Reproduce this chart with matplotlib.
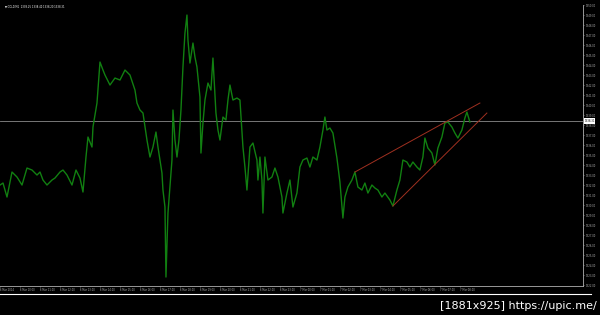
import matplotlib
matplotlib.use("Agg")
import matplotlib.pyplot as plt
from matplotlib.lines import Line2D

# ---- dados (minutos desde o inicio, preco) ----
tempo = [0, 9, 21, 36, 51, 66, 81, 96, 111, 120, 129, 141, 156, 165, 180, 189, 201, 216,
         228, 240, 249, 258, 264, 276, 279, 291, 300, 309, 315, 330, 345, 360, 375, 390,
         405, 411, 420, 429, 441, 450, 459, 468, 474, 486, 489, 495, 498, 504, 510, 516,
         519, 525, 531, 537, 543, 549, 555, 561, 564, 570, 579, 585, 591, 600, 603, 609,
         615, 624, 633, 639, 648, 654, 660, 669, 678, 684, 690, 699, 711, 720, 729, 735,
         741, 750, 759, 771, 774, 780, 786, 789, 795, 804, 816, 825, 834, 846, 849, 861,
         870, 879, 891, 900, 909, 921, 930, 939, 951, 960, 969, 975, 981, 990, 999, 1011,
         1020, 1029, 1035, 1044, 1056, 1065, 1074, 1086, 1095, 1104, 1116, 1125, 1134,
         1146, 1155, 1170, 1179, 1191, 1200, 1209, 1221, 1230, 1239, 1251, 1260, 1269,
         1275, 1284, 1296, 1305, 1314, 1326, 1335, 1344, 1356, 1365, 1374, 1386, 1395,
         1401, 1410]
preco = [1332.0, 1332.2, 1330.8, 1333.3, 1332.8, 1332.0, 1333.7, 1333.5, 1333.0, 1333.3,
         1332.5, 1332.0, 1332.5, 1332.7, 1333.3, 1333.5, 1333.0, 1332.0, 1333.5, 1332.7,
         1331.3, 1334.8, 1336.8, 1335.8, 1337.8, 1340.2, 1344.3, 1343.5, 1343.0, 1342.0,
         1342.7, 1342.5, 1343.5, 1343.0, 1341.5, 1340.2, 1339.5, 1339.2, 1336.5, 1334.8,
         1335.8, 1337.3, 1335.8, 1333.2, 1331.5, 1329.8, 1322.8, 1329.2, 1331.8, 1334.5,
         1339.5, 1336.5, 1334.8, 1336.5, 1339.5, 1343.8, 1347.2, 1349.0, 1346.5, 1344.2,
         1346.2, 1344.8, 1343.8, 1340.8, 1335.2, 1338.2, 1340.5, 1342.2, 1341.5, 1344.7,
         1339.2, 1337.5, 1336.5, 1338.8, 1338.5, 1340.5, 1342.0, 1340.5, 1340.7, 1340.5,
         1335.8, 1333.8, 1331.5, 1335.8, 1336.2, 1334.5, 1332.5, 1334.8, 1332.5, 1329.2,
         1334.8, 1332.5, 1332.8, 1333.7, 1332.8, 1330.8, 1329.2, 1331.2, 1332.5, 1329.8,
         1331.2, 1333.8, 1334.5, 1334.7, 1333.8, 1334.8, 1334.5, 1335.8, 1337.5, 1338.8,
         1337.5, 1337.7, 1337.2, 1334.7, 1332.3, 1328.7, 1330.8, 1331.8, 1332.5, 1333.3,
         1331.8, 1331.5, 1332.2, 1331.2, 1332.0, 1331.7, 1331.5, 1330.8, 1331.2, 1330.5,
         1329.9, 1331.5, 1332.5, 1334.5, 1334.3, 1333.8, 1334.3, 1333.8, 1333.5, 1334.8,
         1336.7, 1335.7, 1335.2, 1334.0, 1335.7, 1336.8, 1338.2, 1338.3, 1337.8, 1337.2,
         1336.7, 1337.5, 1338.7, 1339.3, 1338.3]

# linhas de tendencia (cunha ascendente)
tend_sup_t = [1065, 1440]
tend_sup_p = [1333.3, 1340.2]
tend_inf_t = [1179, 1461]
tend_inf_p = [1329.9, 1339.2]

nivel_horizontal = 1338.4
preco_atual = "1338.31"
titulo = "\u25bc GOLD,M1  1338.25 1338.40 1338.20 1338.31"

ticks_preco = list(range(1322, 1351))
etiquetas_tempo = ["6 Mar 2014", "6 Mar 10:00", "6 Mar 11:00", "6 Mar 12:00", "6 Mar 13:00",
                   "6 Mar 14:00", "6 Mar 15:00", "6 Mar 16:00", "6 Mar 17:00", "6 Mar 18:00",
                   "6 Mar 19:00", "6 Mar 20:00", "6 Mar 21:00", "6 Mar 22:00", "6 Mar 23:00",
                   "7 Mar 00:00", "7 Mar 01:00", "7 Mar 02:00", "7 Mar 03:00", "7 Mar 04:00",
                   "7 Mar 05:00", "7 Mar 06:00", "7 Mar 07:00", "7 Mar 08:00"]
ticks_tempo = [60 * i for i in range(len(etiquetas_tempo))]

cinza = "#b0b0b0"
tam = 1.8

fig = plt.figure(figsize=(6, 3.15), dpi=100, facecolor="black")
ax = fig.add_axes([0.0, 0.092, 0.972, 0.892], facecolor="black")

ax.axhline(nivel_horizontal, color="#8a8a8a", lw=0.6)
ax.plot(tempo, preco, color="#117f11", lw=1.0)
ax.plot(tend_sup_t, tend_sup_p, color="#a03020", lw=0.7)
ax.plot(tend_inf_t, tend_inf_p, color="#a03020", lw=0.7)

ax.set_xlim(0, 1750)
ax.set_ylim(1321.9, 1350.0)

ax.yaxis.tick_right()
ax.set_yticks(ticks_preco)
ax.set_yticklabels([f"{v:.2f}" for v in ticks_preco])
ax.set_xticks(ticks_tempo)
ax.set_xticklabels(etiquetas_tempo, ha="left")
ax.tick_params(axis="both", colors=cinza, labelsize=tam, length=1.0, width=0.4, pad=0.5)

for lado in ["top", "left"]:
    ax.spines[lado].set_visible(False)
for lado in ["right", "bottom"]:
    ax.spines[lado].set_color(cinza)
    ax.spines[lado].set_linewidth(0.6)

# etiqueta do preco atual
ax.text(1.002, nivel_horizontal, preco_atual, transform=ax.get_yaxis_transform(),
        fontsize=tam, color="black", va="center", ha="left",
        bbox=dict(facecolor="white", edgecolor="none", pad=0.4))

fig.text(0.008, 0.978, titulo, color="white", fontsize=tam, va="center", ha="left")

# barra inferior e marca de agua
fig.add_artist(Line2D([0.0, 0.985], [0.067, 0.067], color="white", lw=0.8))
fig.text(0.995, 0.03, "[1881x925] https://upic.me/", color="white", fontsize=8,
         ha="right", va="center")

fig.savefig("out.png", dpi=100, facecolor="black")
